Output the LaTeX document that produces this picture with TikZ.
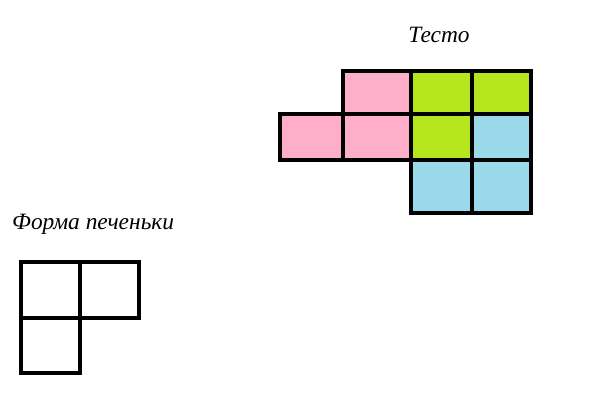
\documentclass[tikz,border=0pt]{standalone}
\usepackage{fontspec}
\setmainfont{Liberation Serif}
\definecolor{dpink}{HTML}{FFAEC9}
\definecolor{dgreen}{HTML}{B5E61D}
\definecolor{dblue}{HTML}{99D9EA}
\begin{document}
\begin{tikzpicture}[x=1bp,y=-1bp,
  cell/.style={draw=black,line width=4.5bp,line join=miter},
  label/.style={font=\itshape\fontsize{23.5}{28}\selectfont,inner sep=0pt}]
\useasboundingbox (0,0) rectangle (600,418);
\fill[white] (0,0) rectangle (600,418);
% dough
\path[cell,fill=dpink]  (343,71) rectangle (411,114);
\path[cell,fill=dgreen] (411,71) rectangle (472,114);
\path[cell,fill=dgreen] (472,71) rectangle (531,114);
\path[cell,fill=dpink]  (280,114) rectangle (343,160);
\path[cell,fill=dpink]  (343,114) rectangle (411,160);
\path[cell,fill=dgreen] (411,114) rectangle (472,160);
\path[cell,fill=dblue]  (472,114) rectangle (531,160);
\path[cell,fill=dblue]  (411,160) rectangle (472,213);
\path[cell,fill=dblue]  (472,160) rectangle (531,213);
% cookie shape
\path[cell] (21,262) rectangle (80,318);
\path[cell] (80,262) rectangle (139,318);
\path[cell] (21,318) rectangle (80,373);
% labels
\node[label] (dough) at (439,35) {Тесто};
\node[label,anchor=west] (shape) at (12,224) {Форма печеньки};
\end{tikzpicture}
\end{document}
